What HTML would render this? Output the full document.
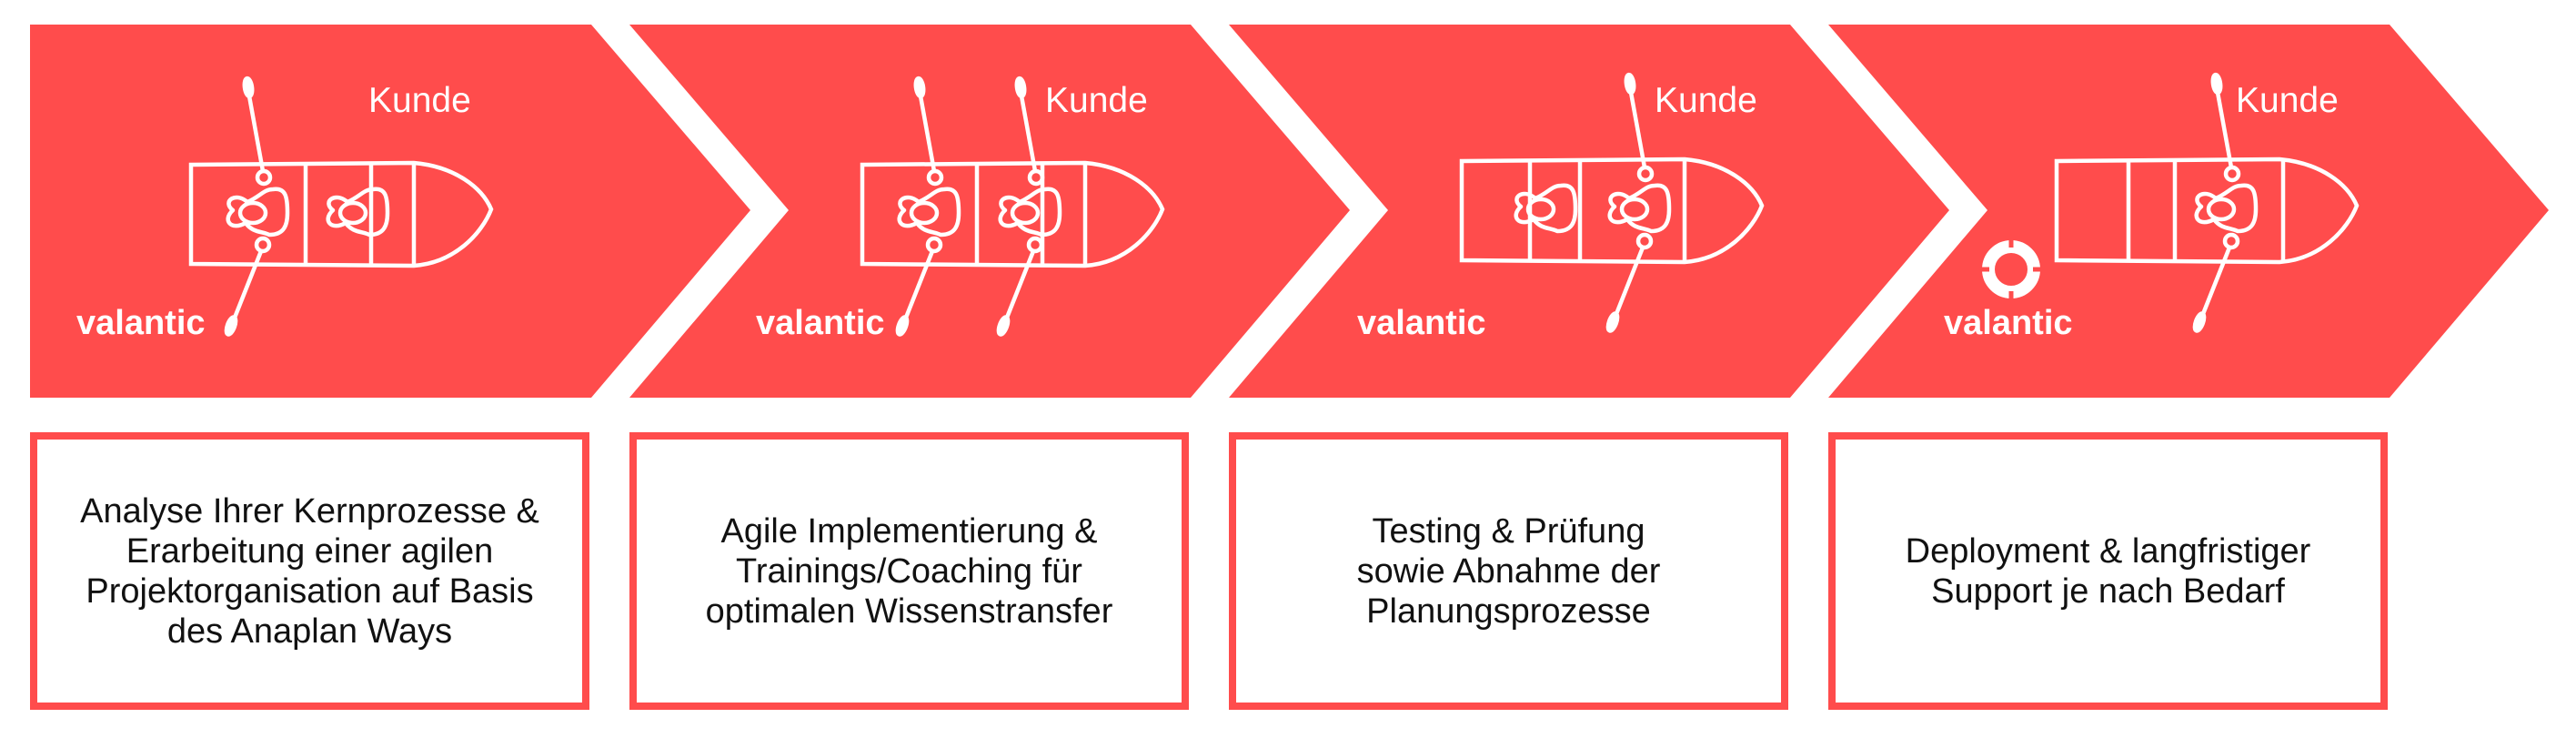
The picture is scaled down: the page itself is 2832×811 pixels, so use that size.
<!DOCTYPE html>
<html><head><meta charset="utf-8">
<style>
html,body{margin:0;padding:0;background:#fff;}
body{width:2832px;height:811px;position:relative;overflow:hidden;font-family:"Liberation Sans",sans-serif;}
.box{position:absolute;top:475px;width:599px;height:289px;border:8px solid #FF4C4C;display:flex;align-items:center;justify-content:center;text-align:center;font-size:38px;line-height:44px;color:#111;}
svg{position:absolute;left:0;top:0;}
</style></head><body>
<svg width="2832" height="811" viewBox="0 0 2832 811">
<defs>
<g id="person" fill="none" stroke="#fff" stroke-width="4.5" stroke-linejoin="round">
<ellipse cx="0" cy="0" rx="14" ry="11"/>
<path d="M -6 -12 C -20 -24 -34 -12 -22 -3 C -34 8 -24 20 -8 11 C 0 22 10 20 18 24 C 34 24 38 14 38 0 C 38 -18 36 -28 22 -26 C 12 -26 8 -18 -6 -12 Z"/>
</g>
<g id="oar" fill="none" stroke="#fff" stroke-width="4.5">
<line x1="-17" y1="-130" x2="-1" y2="-42"/>
<ellipse cx="-17" cy="-134" rx="4" ry="10" fill="#fff" transform="rotate(-8 -17 -134)"/>
<circle cx="0" cy="-35" r="7"/>
<circle cx="-1" cy="39" r="7"/>
<line x1="-3" y1="46" x2="-34" y2="124"/>
<ellipse cx="-36" cy="128" rx="4" ry="10" fill="#fff" transform="rotate(20 -36 128)"/>
</g>
</defs>
<g fill="#FF4C4C">
<polygon points="33,27 650,27 825,231 650,437 33,437"/>
<polygon points="692,27 1309,27 1484,231 1309,437 692,437 867,231"/>
<polygon points="1351,27 1968,27 2143,231 1968,437 1351,437 1526,231"/>
<polygon points="2010,27 2627,27 2802,231 2627,437 2010,437 2185,231"/>
</g>
<g fill="none" stroke="#fff" stroke-width="4.5">
<g transform="translate(210,181)">
<path d="M0 0 L245 -2 C290 2 320 25 330 49 C320 75 290 108 245 111 L0 109 Z"/>
<line x1="126" y1="0" x2="126" y2="110"/><line x1="198" y1="0" x2="198" y2="110"/><line x1="245" y1="-2" x2="245" y2="111"/>
</g>
<g transform="translate(948,181)">
<path d="M0 0 L245 -2 C290 2 320 25 330 49 C320 75 290 108 245 111 L0 109 Z"/>
<line x1="126" y1="0" x2="126" y2="110"/><line x1="198" y1="0" x2="198" y2="110"/><line x1="245" y1="-2" x2="245" y2="111"/>
</g>
<g transform="translate(1607,177)">
<path d="M0 0 L245 -2 C290 2 320 25 330 49 C320 75 290 108 245 111 L0 109 Z"/>
<line x1="75" y1="0" x2="75" y2="110"/><line x1="130" y1="0" x2="130" y2="110"/><line x1="245" y1="-2" x2="245" y2="111"/>
</g>
<g transform="translate(2261,177)">
<path d="M0 0 L245 -2 C290 2 320 25 330 49 C320 75 290 108 245 111 L0 109 Z"/>
<line x1="79" y1="0" x2="79" y2="110"/><line x1="130" y1="0" x2="130" y2="110"/><line x1="249" y1="-2" x2="249" y2="111"/>
</g>
</g>
<use href="#person" x="278" y="234"/><use href="#oar" x="290" y="230"/>
<use href="#person" x="388" y="234"/>
<use href="#person" x="1016" y="234"/><use href="#oar" x="1028" y="230"/>
<use href="#person" x="1127" y="234"/><use href="#oar" x="1139" y="230"/>
<use href="#person" x="1694" y="230"/>
<use href="#person" x="1797" y="230"/><use href="#oar" x="1809" y="226"/>
<use href="#person" x="2442" y="230"/><use href="#oar" x="2454" y="226"/>
<circle cx="2211" cy="296" r="25" fill="none" stroke="#fff" stroke-width="14"/>
<g stroke="#FF4C4C" stroke-width="5">
<line x1="2211" y1="258" x2="2211" y2="272"/><line x1="2211" y1="320" x2="2211" y2="334"/>
<line x1="2173" y1="296" x2="2187" y2="296"/><line x1="2235" y1="296" x2="2249" y2="296"/>
</g>
<g fill="#fff" font-family="Liberation Sans, sans-serif">
<text x="405" y="123" font-size="39">Kunde</text>
<text x="1149" y="123" font-size="39">Kunde</text>
<text x="1819" y="123" font-size="39">Kunde</text>
<text x="2458" y="123" font-size="39">Kunde</text>
<text x="84" y="367" font-size="38" font-weight="bold">valantic</text>
<text x="831" y="367" font-size="38" font-weight="bold">valantic</text>
<text x="1492" y="367" font-size="38" font-weight="bold">valantic</text>
<text x="2137" y="367" font-size="38" font-weight="bold">valantic</text>
</g>
</svg>
<div class="box" style="left:33px">Analyse Ihrer Kernprozesse &amp;<br>Erarbeitung einer agilen<br>Projektorganisation auf Basis<br>des Anaplan Ways</div>
<div class="box" style="left:692px">Agile Implementierung &amp;<br>Trainings/Coaching für<br>optimalen Wissenstransfer</div>
<div class="box" style="left:1351px">Testing &amp; Prüfung<br>sowie Abnahme der<br>Planungsprozesse</div>
<div class="box" style="left:2010px">Deployment &amp; langfristiger<br>Support je nach Bedarf</div>
</body></html>
